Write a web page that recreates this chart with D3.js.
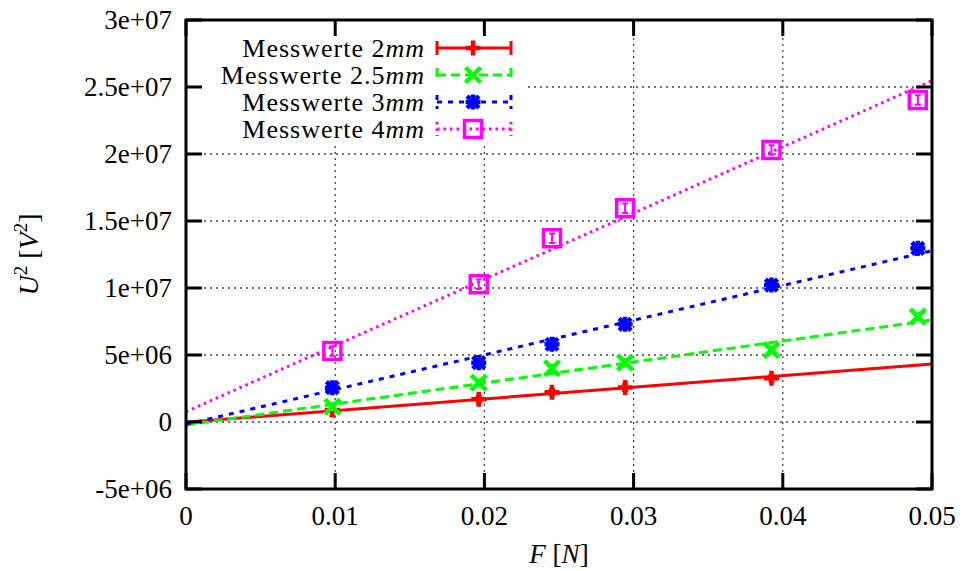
<!DOCTYPE html>
<html>
<head>
<meta charset="utf-8">
<script src="https://cdn.jsdelivr.net/npm/d3@7/dist/d3.min.js"></script>
<style>
  body { margin: 0; background: #fff; }
  text { font-family: "Liberation Serif", "DejaVu Serif", serif; fill: #000; }
</style>
</head>
<body>
<svg id="chart" width="964" height="571"></svg>
<script>
// F in N (measured points, same for all series)
var forces = [0.00981, 0.01962, 0.02453, 0.02943, 0.03924, 0.04905];

// U^2 in V^2
var u2_2mm  = [0.90e6, 1.69e6, 2.22e6, 2.57e6, 3.26e6];
var u2_25mm = [1.14e6, 2.93e6, 4.01e6, 4.43e6, 5.37e6, 7.86e6];
var u2_3mm  = [2.56e6, 4.43e6, 5.80e6, 7.29e6, 10.22e6, 12.96e6];
var u2_4mm  = [5.30e6, 10.28e6, 13.71e6, 15.95e6, 20.30e6, 24.03e6];

// error bars (V^2)
var err_2mm  = [0.45e6, 0.25e6, 0.25e6, 0.25e6, 0.25e6];
var err_25mm = [0.25e6, 0.25e6, 0.25e6, 0.25e6, 0.25e6, 0.25e6];
var err_3mm  = [0.25e6, 0.25e6, 0.25e6, 0.25e6, 0.25e6, 0.25e6];
var err_4mm  = [0.35e6, 0.35e6, 0.35e6, 0.35e6, 0.35e6, 0.35e6];

// linear fits U^2 = a*F + b
var fitSlopes     = [87.0e6, 156.6e6, 259e6, 494e6];
var fitIntercepts = [-0.02e6, -0.22e6, -0.17e6, 0.77e6];

var seriesNames = ["2", "2.5", "3", "4"];
var seriesColors = ["#ff0000", "#00ff00", "#0000ff", "#ff00ff"];
var seriesDash = [null, "9,5", "5,6", "2.5,4"];
var seriesMarks = ["plus", "cross", "star", "square"];
var seriesValues = [u2_2mm, u2_25mm, u2_3mm, u2_4mm];
var seriesErrors = [err_2mm, err_25mm, err_3mm, err_4mm];

var xTicks = [0, 0.01, 0.02, 0.03, 0.04, 0.05];
var xTickLabels = ["0", "0.01", "0.02", "0.03", "0.04", "0.05"];
var yTicks = [-5e6, 0, 5e6, 10e6, 15e6, 20e6, 25e6, 30e6];
var yTickLabels = ["-5e+06", "0", "5e+06", "1e+07", "1.5e+07", "2e+07", "2.5e+07", "3e+07"];

function drawChart() {
    var pL = 186, pR = 932, pT = 20, pB = 489;

    var svg = d3.select("#chart");
    var x = d3.scaleLinear().domain([0, 0.05]).range([pL, pR]);
    var y = d3.scaleLinear().domain([-5e6, 30e6]).range([pB, pT]);

    svg.append("rect").attr("width", 964).attr("height", 571).attr("fill", "#fff");

    // grid
    var grid = svg.append("g")
        .attr("stroke", "#444")
        .attr("stroke-width", 1.3)
        .attr("stroke-dasharray", "2,4");
    grid.selectAll()
        .data(xTicks.slice(1, -1)).enter()
        .append("line")
        .attr("x1", function(d) { return x(d) }).attr("x2", function(d) { return x(d) })
        .attr("y1", pT).attr("y2", pB);
    grid.selectAll()
        .data(yTicks.slice(1, -1)).enter()
        .append("line")
        .attr("y1", function(d) { return y(d) }).attr("y2", function(d) { return y(d) })
        .attr("x1", pL).attr("x2", pR);

    // marker shapes
    function markPath(kind, s) {
        if (kind == "plus") return "M" + (-s) + ",0H" + s + "M0," + (-s) + "V" + s;
        if (kind == "cross") return "M" + (-s) + "," + (-s) + "L" + s + "," + s + "M" + (-s) + "," + s + "L" + s + "," + (-s);
        if (kind == "star") return markPath("plus", s) + markPath("cross", s * 0.8);
        return "M" + (-s) + "," + (-s) + "H" + s + "V" + s + "H" + (-s) + "Z";
    }

    var plot = svg.append("g");
    seriesValues.forEach(function(vals, i) {
        var col = seriesColors[i];
        var fit = [0, 0.05].map(function(f) { return [f, fitSlopes[i] * f + fitIntercepts[i]]; });
        plot.append("path")
            .attr("d", d3.line().x(function(d) { return x(d[0]) }).y(function(d) { return y(d[1]) })(fit))
            .attr("fill", "none")
            .attr("stroke", col)
            .attr("stroke-width", 3)
            .attr("stroke-dasharray", seriesDash[i]);

        var pts = vals.map(function(v, j) { return {f: forces[j], u: v, e: seriesErrors[i][j]}; });
        var g = plot.append("g").attr("stroke", col).attr("fill", "none");
        // error bars
        g.selectAll()
            .data(pts).enter()
            .append("path")
            .attr("stroke-width", 2)
            .attr("d", function(d) {
                var cx = x(d.f), y1 = y(d.u - d.e), y2 = y(d.u + d.e);
                return "M" + cx + "," + y1 + "V" + y2 + "M" + (cx - 3) + "," + y1 + "H" + (cx + 3) + "M" + (cx - 3) + "," + y2 + "H" + (cx + 3);
            });
        g.selectAll()
            .data(pts).enter()
            .append("path")
            .attr("stroke-width", seriesMarks[i] == "square" ? 3.5 : 4.5)
            .attr("transform", function(d) { return "translate(" + x(d.f) + "," + y(d.u) + ")" })
            .attr("d", markPath(seriesMarks[i], seriesMarks[i] == "square" ? 8.5 : 7.5));
    });

    // key (opaque box)
    svg.append("rect")
        .attr("x", pL + 2).attr("y", pT + 2)
        .attr("width", 522 - pL).attr("height", 142 - pT)
        .attr("fill", "#fff");
    var key = svg.append("g");
    seriesNames.forEach(function(name, i) {
        var ky = 48 + i * 27;
        var t = key.append("text")
            .attr("x", 425).attr("y", ky).attr("dy", "0.33em")
            .attr("text-anchor", "end")
            .attr("font-size", 26)
            .attr("letter-spacing", 1);
        t.append("tspan").text("Messwerte " + name);
        t.append("tspan").attr("font-style", "italic").text("mm");
        key.append("path")
            .attr("d", "M437," + ky + "H511M437," + (ky - 7) + "V" + (ky + 7) + "M511," + (ky - 7) + "V" + (ky + 7))
            .attr("fill", "none")
            .attr("stroke", seriesColors[i])
            .attr("stroke-width", 3)
            .attr("stroke-dasharray", seriesDash[i]);
        key.append("path")
            .attr("transform", "translate(473," + ky + ")")
            .attr("d", markPath(seriesMarks[i], seriesMarks[i] == "square" ? 8.5 : 7.5))
            .attr("fill", "none")
            .attr("stroke", seriesColors[i])
            .attr("stroke-width", seriesMarks[i] == "square" ? 3.5 : 4.5);
    });

    // border and ticks (mirrored, inward)
    var frame = svg.append("g").attr("stroke", "#000").attr("stroke-width", 3).attr("fill", "none");
    frame.append("rect").attr("x", pL).attr("y", pT).attr("width", pR - pL).attr("height", pB - pT);
    frame.selectAll()
        .data(xTicks).enter()
        .append("path")
        .attr("d", function(d) { return "M" + x(d) + "," + pB + "v-16M" + x(d) + "," + pT + "v16" });
    frame.selectAll()
        .data(yTicks).enter()
        .append("path")
        .attr("d", function(d) { return "M" + pL + "," + y(d) + "h16M" + pR + "," + y(d) + "h-16" });

    // tick labels
    svg.selectAll()
        .data(xTicks).enter()
        .append("text")
        .attr("x", function(d) { return x(d) })
        .attr("y", 525)
        .attr("text-anchor", "middle")
        .attr("font-size", 27)
        .text(function(d, i) { return xTickLabels[i] });
    svg.selectAll()
        .data(yTicks).enter()
        .append("text")
        .attr("x", 172)
        .attr("y", function(d) { return y(d) })
        .attr("dy", "0.33em")
        .attr("text-anchor", "end")
        .attr("font-size", 27)
        .text(function(d, i) { return yTickLabels[i] });

    // axis titles
    var xt = svg.append("text")
        .attr("x", (pL + pR) / 2).attr("y", 563)
        .attr("text-anchor", "middle")
        .attr("font-size", 27);
    xt.append("tspan").attr("font-style", "italic").text("F");
    xt.append("tspan").text(" [");
    xt.append("tspan").attr("font-style", "italic").text("N");
    xt.append("tspan").text("]");

    var yt = svg.append("text")
        .attr("transform", "translate(38," + ((pT + pB) / 2) + ") rotate(-90)")
        .attr("text-anchor", "middle")
        .attr("font-size", 28);
    yt.append("tspan").attr("font-style", "italic").text("U");
    yt.append("tspan").attr("font-size", 19).attr("dy", -11).text("2");
    yt.append("tspan").attr("dy", 11).text(" [");
    yt.append("tspan").attr("font-style", "italic").text("V");
    yt.append("tspan").attr("font-size", 19).attr("dy", -11).text("2");
    yt.append("tspan").attr("dy", 11).text("]");
}

drawChart();
</script>
</body>
</html>
